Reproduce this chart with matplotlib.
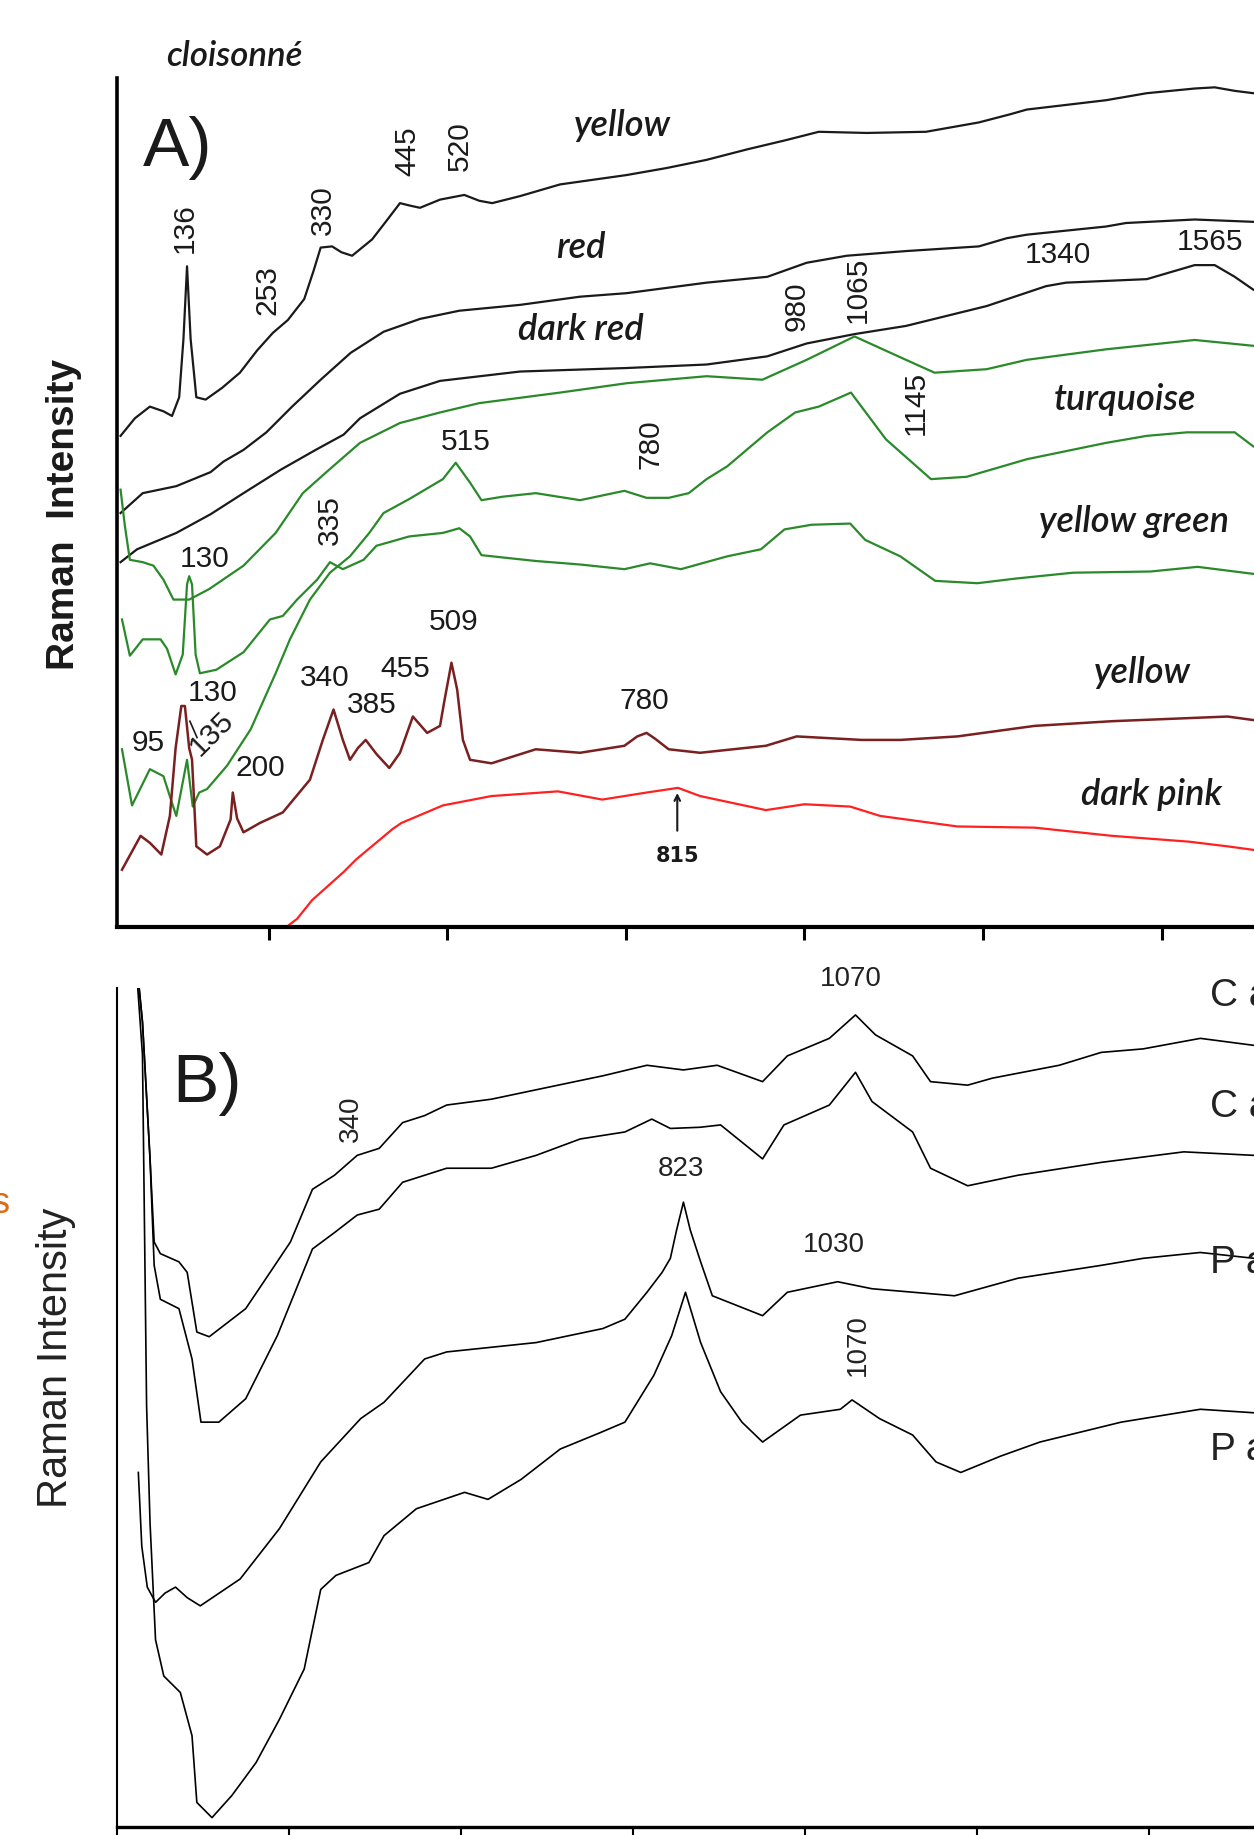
import matplotlib.pyplot as plt

# ---------------- panel A : cloisonne enamels (wavenumber / cm-1, arbitrary intensity)
a_yellow_x = [43, 63, 84, 103, 115, 125, 131, 136, 141, 149, 162, 185, 210, 234, 256, 277, 300, 313,
              323, 339, 352, 367, 395, 414, 434, 447, 462, 490, 524, 545, 563, 602, 658, 751, 807, 863,
              920, 975, 1020, 1087, 1170, 1244, 1288, 1311, 1422, 1479, 1546, 1574, 1602, 1628]
a_yellow_y = [420, 435, 445, 441, 437, 453, 503, 565, 503, 453, 451, 461, 474, 493, 508, 519, 537, 561,
              581, 582, 577, 574, 588, 603, 619, 617, 615, 622, 626, 621, 619, 625, 635, 643, 649, 656,
              665, 673, 680, 679, 680, 688, 695, 699, 707, 713, 717, 718, 715, 713]

a_red_x = [43, 74, 121, 169, 187, 215, 247, 283, 323, 365, 411, 462, 517, 602, 686, 751, 863, 948,
           1003, 1059, 1142, 1244, 1283, 1311, 1422, 1450, 1546, 1628]
a_red_y = [354, 371, 377, 389, 398, 408, 423, 445, 468, 491, 509, 520, 527, 532, 539, 542, 551, 556,
           568, 574, 578, 582, 589, 592, 599, 602, 605, 603]

a_darkred_x = [43, 66, 121, 169, 215, 267, 316, 355, 378, 434, 490, 602, 751, 863, 948, 1003, 1070,
               1142, 1255, 1338, 1366, 1479, 1546, 1574, 1602, 1628]
a_darkred_y = [312, 323, 337, 353, 371, 391, 408, 421, 435, 456, 467, 475, 478, 481, 488, 499, 507,
               514, 531, 548, 551, 554, 566, 566, 556, 545]

a_turq1_x = [43, 49, 56, 74, 89, 103, 117, 139, 167, 215, 260, 298, 331, 378, 434, 490, 545, 658, 751,
             863, 941, 1003, 1070, 1142, 1182, 1255, 1311, 1422, 1546, 1628]
a_turq1_y = [374, 343, 314, 312, 309, 297, 280, 280, 289, 309, 337, 371, 389, 414, 431, 440, 448, 457,
             465, 471, 468, 485, 505, 485, 474, 477, 485, 494, 502, 497]

a_turq2_x = [45, 59, 84, 103, 115, 121, 136, 144, 153, 164, 192, 225, 260, 280, 308, 336, 364, 391, 411,
             447, 494, 512, 532, 548, 578, 624, 686, 717, 748, 779, 810, 838, 863, 892, 948, 987, 1020,
             1065, 1114, 1177, 1227, 1311, 1422, 1479, 1535, 1602, 1628]
a_turq2_y = [152, 104, 135, 129, 106, 95, 143, 103, 115, 118, 138, 169, 217, 246, 280, 303, 317, 337, 354,
             366, 383, 397, 380, 365, 368, 371, 365, 369, 373, 367, 367, 371, 383, 394, 423, 440, 445,
             457, 417, 383, 385, 400, 414, 420, 423, 423, 411]

a_ygreen_x = [45, 56, 74, 99, 108, 120, 130, 136, 139, 143, 148, 154, 177, 215, 252, 270, 290, 318, 336,
              354, 383, 401, 447, 494, 517, 532, 548, 578, 624, 686, 748, 784, 827, 892, 939, 972, 1010,
              1064, 1085, 1134, 1183, 1242, 1296, 1376, 1484, 1550, 1628]
a_ygreen_y = [263, 232, 246, 246, 238, 216, 233, 293, 300, 293, 233, 217, 220, 235, 263, 266, 280, 297, 312,
              306, 314, 326, 334, 337, 341, 334, 318, 316, 313, 310, 306, 311, 306, 317, 323, 340, 344,
              345, 331, 317, 296, 294, 298, 303, 304, 308, 302]

a_yel2_x = [45, 71, 84, 100, 112, 120, 128, 133, 139, 143, 149, 164, 182, 197, 200, 206, 215, 238, 270,
            308, 326, 341, 354, 364, 375, 386, 401, 419, 434, 452, 472, 490, 496, 506, 514, 522, 532,
            562, 624, 686, 748, 766, 779, 791, 810, 854, 946, 989, 1080, 1134, 1214, 1322, 1430, 1592,
            1628]
a_yel2_y = [49, 78, 72, 62, 95, 153, 189, 189, 153, 143, 69, 62, 69, 92, 115, 93, 81, 89, 98, 126, 160,
            186, 160, 143, 153, 160, 148, 136, 149, 180, 166, 172, 193, 226, 203, 160, 143, 140, 152, 149,
            155, 163, 166, 161, 152, 149, 155, 163, 160, 160, 163, 172, 176, 180, 177]

a_pink_x = [262, 275, 290, 311, 355, 373, 424, 436, 494, 562, 655, 717, 779, 823, 854, 946, 1000, 1064,
            1106, 1214, 1322, 1430, 1538, 1592, 1628]
a_pink_y = [-12, 0, 7, 23, 47, 58, 84, 89, 104, 112, 116, 109, 115, 119, 112, 100, 105, 103, 95, 86, 85,
            78, 73, 69, 66]

# ---------------- panel B
b_c1_x = [25, 37, 48, 54, 63, 90, 102, 116, 134, 187, 219, 252, 284, 316, 349, 381, 415, 447, 479, 544,
          641, 706, 770, 823, 872, 938, 974, 1035, 1073, 1102, 1156, 1182, 1236, 1272, 1369, 1430, 1491,
          1574, 1652]
b_c1_y = [760, 688, 571, 500, 490, 483, 474, 423, 419, 443, 471, 500, 545, 557, 574, 580, 602, 608, 617,
          622, 634, 642, 651, 647, 651, 637, 659, 674, 694, 677, 659, 637, 634, 640, 651, 662, 665, 674,
          668]

b_c2_x = [25, 37, 48, 54, 63, 90, 109, 122, 148, 187, 233, 284, 316, 349, 381, 415, 479, 544, 609, 673,
          738, 777, 804, 847, 877, 938, 969, 1035, 1073, 1097, 1156, 1182, 1236, 1309, 1430, 1550, 1652]
b_c2_y = [760, 688, 571, 480, 451, 443, 400, 346, 346, 366, 420, 494, 508, 523, 528, 551, 563, 563, 574,
          588, 594, 605, 597, 598, 600, 571, 600, 617, 645, 620, 594, 563, 548, 557, 568, 577, 574]

b_p1_x = [31, 36, 44, 56, 70, 85, 102, 121, 179, 236, 296, 354, 388, 447, 479, 609, 706, 738, 770, 792,
          804, 813, 823, 833, 848, 865, 938, 974, 1047, 1097, 1217, 1309, 1430, 1491, 1574, 1652]
b_p1_y = [303, 240, 205, 192, 200, 205, 196, 189, 212, 255, 312, 349, 363, 400, 406, 414, 426, 434, 457,
          474, 486, 510, 534, 510, 483, 454, 437, 457, 466, 460, 454, 469, 480, 486, 491, 486]

b_p2_x = [25, 37, 39, 41, 43, 48, 56, 68, 92, 109, 116, 138, 167, 202, 236, 272, 296, 318, 366, 388, 435,
          505, 539, 587, 644, 702, 738, 780, 806, 826, 848, 877, 908, 938, 993, 1051, 1068, 1108, 1156,
          1190, 1226, 1284, 1341, 1459, 1574, 1652]
b_p2_y = [760, 660, 560, 460, 360, 260, 160, 129, 115, 78, 21, 8, 27, 55, 92, 135, 203, 215, 226, 249,
          272, 286, 280, 297, 323, 337, 346, 386, 420, 457, 414, 372, 346, 329, 352, 357, 365, 349, 335,
          312, 303, 317, 329, 346, 357, 354]

ticks_a = [250, 500, 750, 1000, 1250, 1500]
ticks_b = [0, 250, 500, 750, 1000, 1250, 1500]

GREEN = '#2a8a2a'
BROWN = '#7b2020'
RED = '#ff2020'
INK = '#1a1a1a'
NUM = 'Liberation Sans'
ITAL = 'Lato'

fig = plt.figure(figsize=(12.54, 18.35), dpi=100)

# ======================= panel A
axA = fig.add_axes([0.0933, 0.4948, 0.9067, 0.4627])
axA.plot(a_yellow_x, a_yellow_y, color=INK, lw=1.6)
axA.plot(a_red_x, a_red_y, color=INK, lw=1.6)
axA.plot(a_darkred_x, a_darkred_y, color=INK, lw=1.6)
axA.plot(a_turq1_x, a_turq1_y, color=GREEN, lw=1.6)
axA.plot(a_turq2_x, a_turq2_y, color=GREEN, lw=1.6)
axA.plot(a_ygreen_x, a_ygreen_y, color=GREEN, lw=1.6)
axA.plot(a_yel2_x, a_yel2_y, color=BROWN, lw=1.8)
axA.plot(a_pink_x, a_pink_y, color=RED, lw=1.6)
axA.set_xlim(38, 1629)
axA.set_ylim(0, 726)
axA.spines[['top', 'right']].set_visible(False)
axA.spines['left'].set_linewidth(2.6)
axA.spines['bottom'].set_linewidth(3.0)
axA.set_xticks(ticks_a)
axA.set_yticks([])
axA.tick_params(axis='x', direction='out', length=9, width=2.2, labelbottom=False)

num_kw = dict(family=NUM, fontsize=21.5, color=INK, ha='center', va='center')
rot_labels = [(133, 598, '136'), (249, 545, '253'), (326, 613, '330'), (445, 663, '445'),
              (517, 668, '520'), (336, 348, '335'), (784, 413, '780'), (989, 531, '980'),
              (1074, 545, '1065'), (1155, 448, '1145')]
for x, y, s in rot_labels:
    axA.text(x, y, s, rotation=90, **num_kw)
flat_labels = [(161, 315, '130'), (526, 415, '515'), (1355, 575, '1340'), (1568, 586, '1565'),
               (509, 261, '509'), (329, 213, '340'), (442, 221, '455'), (395, 190, '385'),
               (172, 200, '130'), (81, 157, '95'), (238, 136, '200'), (776, 193, '780')]
for x, y, s in flat_labels:
    axA.text(x, y, s, **num_kw)
axA.text(170, 165, '135', rotation=45, **num_kw)
axA.plot([150, 140], [162, 176], color=INK, lw=1.2)
axA.annotate('', xy=(822, 117), xytext=(822, 80),
             arrowprops=dict(arrowstyle='->', color=INK, lw=1.5))
axA.text(822, 61, '815', family='DejaVu Sans', fontsize=15, fontweight='bold',
         color=INK, ha='center', va='center')

name_kw = dict(family=ITAL, style='italic', fontweight='semibold', fontsize=26, color=INK,
               ha='center', va='center')
names = [(745, 685, 'yellow'), (687, 581, 'red'), (687, 511, 'dark red'), (1448, 451, 'turquoise'),
         (1461, 347, 'yellow green'), (1473, 218, 'yellow'), (1486, 113, 'dark pink')]
for x, y, s in names:
    axA.text(x, y, s, **name_kw)
axA.text(123, 666, 'A)', family=NUM, fontsize=50, color=INK, ha='center', va='center')

fig.text(0.1866, 0.9694, 'cloisonné', family=ITAL, style='italic', fontweight='semibold',
         fontsize=25, color=INK, ha='center', va='center')
fig.text(0.0513, 0.7194, 'Raman  Intensity', family=NUM, fontsize=28, fontweight='bold',
         rotation=90, ha='center', va='center', color=INK)

# ======================= panel B
axB = fig.add_axes([0.0933, 0.00436, 0.9067, 0.4572])
for xs, ys in [(b_c1_x, b_c1_y), (b_c2_x, b_c2_y), (b_p1_x, b_p1_y), (b_p2_x, b_p2_y)]:
    axB.plot(xs, ys, color='black', lw=1.2)
axB.set_xlim(0, 1652)
axB.set_ylim(0, 717)
axB.spines[['top', 'right']].set_visible(False)
axB.spines['left'].set_linewidth(1.5)
axB.spines['bottom'].set_linewidth(2.4)
axB.set_xticks(ticks_b)
axB.set_yticks([])
axB.tick_params(axis='x', direction='out', length=10, width=1.5, labelbottom=False)

bnum = dict(family=NUM, fontsize=20, color='#222222', ha='center', va='center')
axB.text(340, 605, '340', rotation=90, **bnum)
axB.text(1066, 725, '1070', clip_on=False, **bnum)
axB.text(819, 562, '823', **bnum)
axB.text(1042, 497, '1030', **bnum)
axB.text(1076, 412, '1070', rotation=90, **bnum)
for y, s in [(710, 'C a'), (615, 'C a'), (482, 'P a'), (322, 'P a')]:
    axB.text(1588, y, s, family=NUM, fontsize=28, color='#222222', ha='left', va='center')
axB.text(131, 635, 'B)', family=NUM, fontsize=50, color=INK, ha='center', va='center')

fig.text(0.0448, 0.2602, 'Raman Intensity', family=NUM, fontsize=30, rotation=90,
         ha='center', va='center', color='#222222')
fig.text(0.001, 0.3444, 's', family=NUM, fontsize=26, color='#e06a10', ha='center', va='center')

fig.savefig('out.png', dpi=100)
